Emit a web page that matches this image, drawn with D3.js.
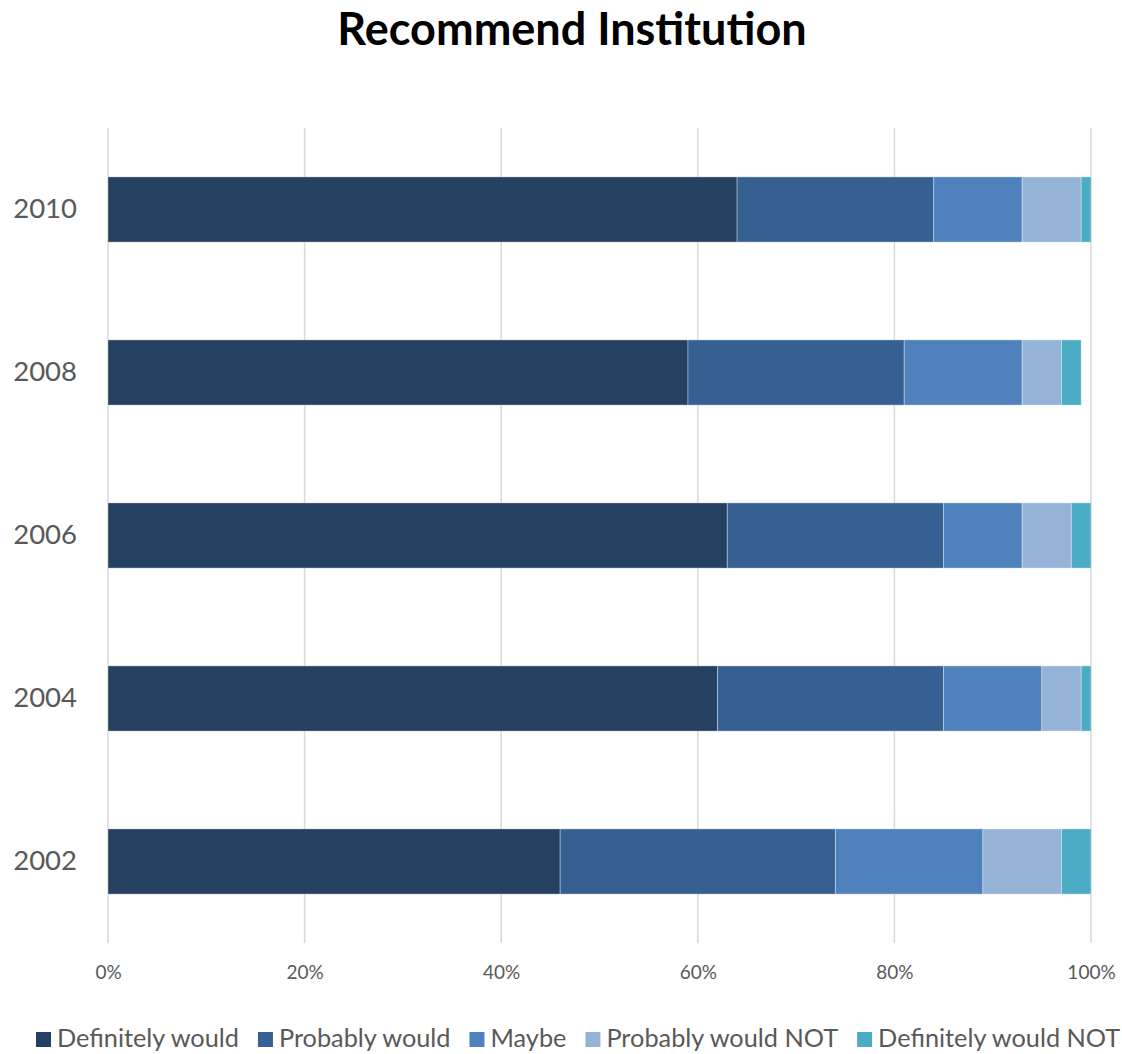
<!DOCTYPE html>
<html><head><meta charset="utf-8">
<script src="https://cdn.jsdelivr.net/npm/d3@7"></script>
<style>body{margin:0;background:#fff}svg{display:block}</style>
</head><body>
<svg id="c" width="1122" height="1054"></svg>
<script>
const years = ["2010","2008","2006","2004","2002"];
const seriesNames = ["Definitely would","Probably would","Maybe","Probably would NOT","Definitely would NOT"];
const definitelyWould   = [0.64,0.59,0.63,0.62,0.46];
const probablyWould     = [0.20,0.22,0.22,0.23,0.28];
const maybe             = [0.09,0.12,0.08,0.10,0.15];
const probablyWouldNot  = [0.06,0.04,0.05,0.04,0.08];
const definitelyWouldNot= [0.01,0.02,0.02,0.01,0.03];
const xTicks = [0,0.2,0.4,0.6,0.8,1.0];
const colors = ["#264061","#366092","#4f81bd","#95b3d7","#4bacc6"];

const seriesVals = [definitelyWould,probablyWould,maybe,probablyWouldNot,definitelyWouldNot];
const rows = years.map((y,i)=>{const r={year:y};seriesNames.forEach((s,j)=>r[s]=seriesVals[j][i]);return r;});
const stacked = d3.stack().keys(seriesNames)(rows);

const svg = d3.select("#c");
const font = "Lato, 'Open Sans', sans-serif";
const x = d3.scaleLinear().domain([0,1]).range([108,1091]);
const y = d3.scaleBand().domain(years).range([128,943]).paddingInner(0.6).paddingOuter(0.3);

svg.append("text").attr("x",572).attr("y",45).attr("text-anchor","middle")
  .attr("font-family",font).attr("font-weight","bold").attr("font-size",45).attr("fill","#000")
  .text("Recommend Institution");

// gridlines
svg.append("g").selectAll("line").data(xTicks).join("line")
  .attr("x1",d=>x(d)).attr("x2",d=>x(d)).attr("y1",128).attr("y2",943)
  .attr("stroke","#d9d9d9").attr("stroke-width",1.5);

// bars
svg.append("g").selectAll("g").data(stacked).join("g")
  .attr("fill",(d,i)=>colors[i])
  .selectAll("rect").data(d=>d).join("rect")
  .attr("x",d=>x(d[0])).attr("width",d=>x(d[1])-x(d[0]))
  .attr("y",d=>y(d.data.year)).attr("height",y.bandwidth())
  .attr("stroke","#ffffff").attr("stroke-opacity",0.35).attr("stroke-width",1);

// x axis
const xAxis = svg.append("g").attr("transform","translate(0,943)")
  .call(d3.axisBottom(x).tickValues(xTicks).tickFormat(d3.format(".0%")).tickSize(0).tickPadding(23));
xAxis.select(".domain").remove();
xAxis.selectAll("text").attr("font-family",font).attr("font-size",19).attr("fill","#595959");

// y axis
const yAxis = svg.append("g").attr("transform","translate(108,0)")
  .call(d3.axisLeft(y).tickSize(0).tickPadding(31));
yAxis.select(".domain").remove();
yAxis.selectAll("text").attr("font-family",font).attr("font-size",27.5).attr("fill","#595959");

// legend
const lg = svg.append("g").attr("font-family",font).attr("font-size",25.3).attr("fill","#595959");
let lx = 36;
seriesNames.forEach((s,i)=>{
  lg.append("rect").attr("x",lx).attr("y",1032).attr("width",15).attr("height",15).attr("fill",colors[i]);
  const t = lg.append("text").attr("x",lx+21).attr("y",1047).text(s);
  lx += 21 + t.node().getComputedTextLength() + 19;
});
</script>
</body></html>
